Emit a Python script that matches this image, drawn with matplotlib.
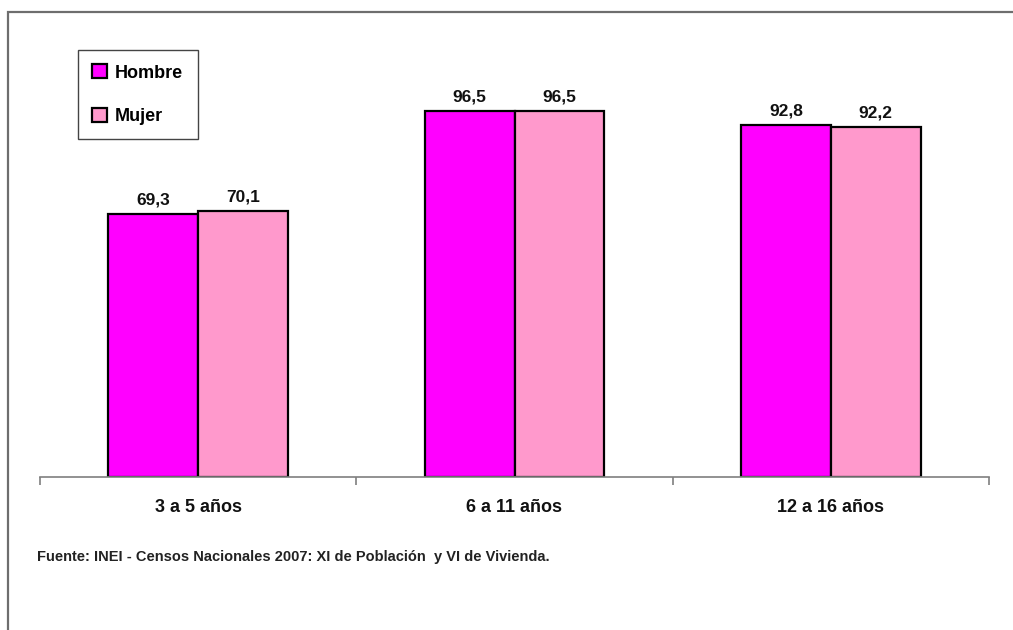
import matplotlib
matplotlib.use("Agg")
import matplotlib.pyplot as plt
from matplotlib.patches import Rectangle, Patch
import numpy as np

categories = ["3 a 5 años", "6 a 11 años", "12 a 16 años"]
hombre = [69.3, 96.5, 92.8]
mujer = [70.1, 96.5, 92.2]
series_names = ["Hombre", "Mujer"]
source = "Fuente: INEI - Censos Nacionales 2007: XI de Población  y VI de Vivienda."

FONT = ["Liberation Sans Narrow", "Liberation Sans", "DejaVu Sans"]
plt.rcParams['font.family'] = FONT

W, H = 1013, 630
fig = plt.figure(figsize=(W/100, H/100), dpi=100)

# outer frame
fig.patches.append(Rectangle((8/W, -0.1), 1.2, (H-12)/H + 0.1, transform=fig.transFigure,
                             fill=False, edgecolor="#6e6e6e", linewidth=1.6))

left, right, bottom = 40, 989, 477
ymax = 110
top = bottom - ymax * 3.793
ax = fig.add_axes([left/W, 1 - bottom/H, (right-left)/W, (bottom-top)/H])

x = np.arange(len(categories))
bw = 0.284
b1 = ax.bar(x - bw/2, hombre, bw, color="#FF00FF", edgecolor="black", linewidth=1.6, label=series_names[0])
b2 = ax.bar(x + bw/2, mujer, bw, color="#FF99CC", edgecolor="black", linewidth=1.6, label=series_names[1])

for bars, vals in ((b1, hombre), (b2, mujer)):
    for r, v in zip(bars, vals):
        ax.annotate(f"{v:.1f}".replace(".", ","), (r.get_x() + r.get_width()/2, v),
                    xytext=(0, 5), textcoords="offset points", ha="center", va="bottom",
                    fontsize=12.5, fontweight="bold", color="#111111")

ax.set_xlim(-0.5, len(categories) - 0.5)
ax.set_ylim(0, ymax)
for s in ("top", "right", "left"):
    ax.spines[s].set_visible(False)
ax.spines["bottom"].set_color("#7f7f7f")
ax.spines["bottom"].set_linewidth(1.2)
ax.set_yticks([])
ax.set_xticks(np.arange(len(categories) + 1) - 0.5, minor=False)
ax.set_xticklabels([])
ax.tick_params(axis="x", direction="out", length=6, color="#7f7f7f", width=1.2)
for i, c in enumerate(categories):
    ax.text(i, -31/3.793, c, ha="center", va="center", fontsize=13, fontweight="bold", color="#111111")

leg = ax.legend(handles=[Patch(facecolor="#FF00FF", edgecolor="black", linewidth=1.6),
                         Patch(facecolor="#FF99CC", edgecolor="black", linewidth=1.6)],
                labels=series_names, loc="upper left",
                bbox_to_anchor=((78-left)/(right-left), (bottom-50)/(bottom-top)),
                fancybox=False, framealpha=1, edgecolor="#444444",
                prop={"family": FONT, "weight": "bold", "size": 13},
                handlelength=0.8, handleheight=0.8, handletextpad=0.45, labelspacing=1.45,
                borderpad=0.8, borderaxespad=0)
leg.get_frame().set_linewidth(1.0)

fig.text(37/W, 1 - 557/H, source, ha="left", va="center", fontsize=10.5, fontweight="bold", color="#222222")

fig.savefig("out.png", dpi=100)
